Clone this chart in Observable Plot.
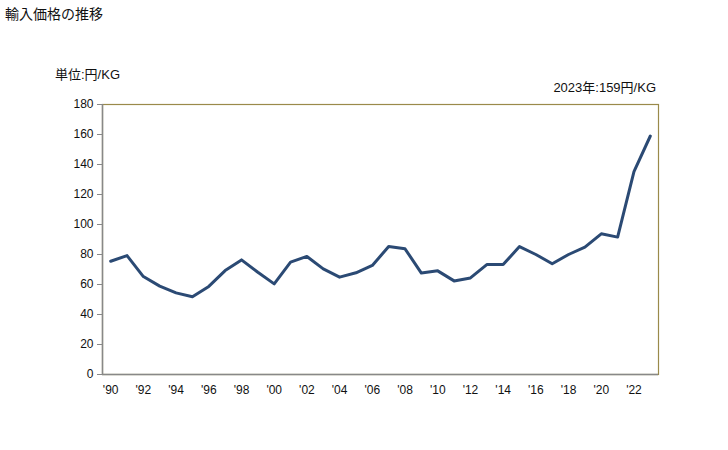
<!DOCTYPE html>
<html><head><meta charset="utf-8">
<script src="https://cdn.jsdelivr.net/npm/d3@7"></script>
<script src="https://cdn.jsdelivr.net/npm/@observablehq/plot@0.6"></script>
<style>
body{margin:0;background:#fff;font-family:"Liberation Sans","Noto Sans CJK JP",sans-serif;}
#wrap{position:relative;width:728px;height:450px;}
.lbl{position:absolute;color:#111;white-space:nowrap;}
</style></head>
<body><div id="wrap">
<div class="lbl" style="left:5px;top:3px;font-size:14px;">輸入価格の推移</div>
<div class="lbl" style="left:55px;top:64px;font-size:13px;">単位:円/KG</div>
<div class="lbl" style="right:72px;top:77px;font-size:13px;">2023年:159円/KG</div>
</div>
<script>
const years = [1990,1991,1992,1993,1994,1995,1996,1997,1998,1999,2000,2001,2002,2003,2004,2005,2006,2007,2008,2009,2010,2011,2012,2013,2014,2015,2016,2017,2018,2019,2020,2021,2022,2023];
const prices = [75.5,79.3,65.3,58.9,54.4,51.8,58.7,69.3,76.4,68.2,60.4,74.9,78.7,70.4,64.9,67.8,72.7,85.3,83.8,67.6,69.1,62.4,64.4,73.3,73.3,85.3,80,73.8,80,84.9,93.8,91.6,135.3,159];
const xTicks = d3.range(1990, 2023, 2);
const yTicks = d3.range(0, 181, 20);
const data = years.map((y, i) => ({year: y, price: prices[i]}));

const chart = Plot.plot({
  width: 728, height: 450,
  marginLeft: 102, marginRight: 70, marginTop: 104, marginBottom: 76,
  style: {fontFamily: '"Liberation Sans","Noto Sans CJK JP",sans-serif', fontSize: "12px", color: "#111", background: "transparent"},
  x: {domain: [1989.5, 2023.5], ticks: xTicks, tickSize: 0, tickPadding: 11, tickFormat: d => "'" + String(d).slice(2), label: null},
  y: {domain: [0, 180], ticks: yTicks, tickSize: 5, tickPadding: 4, label: null},
  marks: [
    Plot.frame({stroke: "#9a8a4a", strokeWidth: 1.2}),
    Plot.ruleX([1989.5], {stroke: "#888", strokeWidth: 1.5}),
    Plot.ruleY([0], {stroke: "#888", strokeWidth: 1.5}),
    Plot.axisY({ticks: yTicks, tickSize: 5, tickPadding: 4, stroke: "#888"}),
    Plot.axisX({ticks: xTicks, tickSize: 0, tickPadding: 11, tickFormat: d => "'" + String(d).slice(2)}),
    Plot.line(data, {x: "year", y: "price", stroke: "#2b4a74", strokeWidth: 3, strokeLinejoin: "round"})
  ]
});
chart.style.position = "absolute";
chart.style.left = "0";
chart.style.top = "0";
document.getElementById("wrap").appendChild(chart);
</script>
</body></html>
